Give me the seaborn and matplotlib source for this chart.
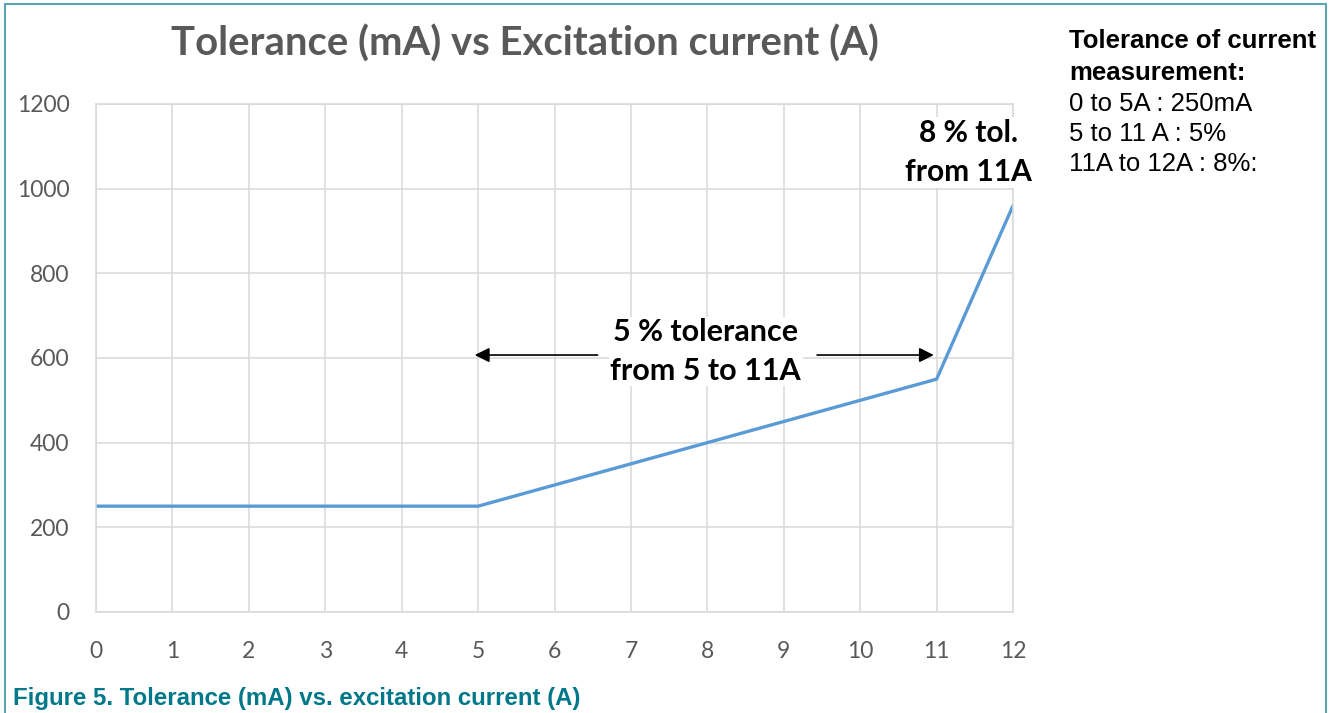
import numpy as np
import pandas as pd
import matplotlib
matplotlib.use("Agg")
import matplotlib.pyplot as plt
import matplotlib.patches as patches
import seaborn as sns

# chart data
current_a = [0, 1, 2, 3, 4, 5, 6, 7, 8, 9, 10, 11, 12]
tolerance_ma = [250, 250, 250, 250, 250, 250, 300, 350, 400, 450, 500, 550, 960]
x_ticks = list(range(0, 13))
y_ticks = [0, 200, 400, 600, 800, 1000, 1200]

title = "Tolerance (mA) vs Excitation current (A)"
mid_note = "5 % tolerance\nfrom 5 to 11A"
top_note = "8 % tol.\nfrom 11A"
side_head = ["Tolerance of current", "measurement:"]
side_lines = ["0 to 5A : 250mA", "5 to 11 A : 5%", "11A to 12A : 8%:"]
caption = "Figure 5. Tolerance (mA) vs. excitation current (A)"

df = pd.DataFrame({"current": current_a, "tolerance": tolerance_ma})

sns.set_style("white")
plt.rcParams["font.family"] = ["Lato", "DejaVu Sans"]

W, H = 1331, 713
fig = plt.figure(figsize=(W / 100, H / 100), dpi=100)
ax = fig.add_axes([96 / W, 1 - 612 / H, (1013 - 96) / W, (612 - 104) / H])

sns.lineplot(data=df, x="current", y="tolerance", ax=ax, color="#5b9bd5", linewidth=2.4)

ax.set_xlim(0, 12)
ax.set_ylim(0, 1200)
ax.set_xticks(x_ticks)
ax.set_yticks(y_ticks)
ax.set_xlabel("")
ax.set_ylabel("")
ax.grid(True, color="#d9d9d9", linewidth=1.1)
for s in ax.spines.values():
    s.set_color("#d9d9d9")
    s.set_linewidth(1.1)
ax.tick_params(axis="y", length=0, pad=19, labelsize=16.5, labelcolor="#595959")
ax.tick_params(axis="x", length=0, pad=21, labelsize=16.5, labelcolor="#595959")

# title
fig.text(525 / W, 1 - 44 / H, title, ha="center", va="center",
         fontsize=28.8, fontweight="bold", color="#595959")

# arrows for the 5 % band
ax.annotate("", xy=(4.92, 607), xytext=(6.6, 607),
            arrowprops=dict(arrowstyle="-|>", color="black", lw=1.2, mutation_scale=22))
ax.annotate("", xy=(11.0, 607), xytext=(9.4, 607),
            arrowprops=dict(arrowstyle="-|>", color="black", lw=1.2, mutation_scale=22))

ax.text(7.98, 615, mid_note, ha="center", va="center", fontsize=22, fontweight="bold",
        color="black", linespacing=1.45,
        bbox=dict(facecolor="white", edgecolor="none", pad=1))
ax.text(11.42, 1086, top_note, ha="center", va="center", fontsize=21.5, fontweight="bold",
        color="black", linespacing=1.5,
        bbox=dict(facecolor="white", edgecolor="none", pad=1))

# side note
arial = ["Liberation Sans", "DejaVu Sans"]
for i, line in enumerate(side_head):
    fig.text(1069 / W, 1 - (41 + 32 * i) / H, line, ha="left", va="center",
             fontsize=18.5, fontweight="bold", color="black", family=arial)
for i, line in enumerate(side_lines):
    fig.text(1069 / W, 1 - (104 + 30 * i) / H, line, ha="left", va="center",
             fontsize=18.5, color="black", family=arial)

# caption
fig.text(13 / W, 1 - 698 / H, caption, ha="left", va="center",
         fontsize=17.3, fontweight="bold", color="#00788a", family=arial)

# outer frame
frame = patches.Rectangle((5 / W, -0.05), (1326 - 5) / W, 1.05 - 4 / H,
                          transform=fig.transFigure, fill=False,
                          edgecolor="#5aa6b3", linewidth=1.5, clip_on=False)
fig.patches.append(frame)

fig.savefig("out.png", dpi=100)
